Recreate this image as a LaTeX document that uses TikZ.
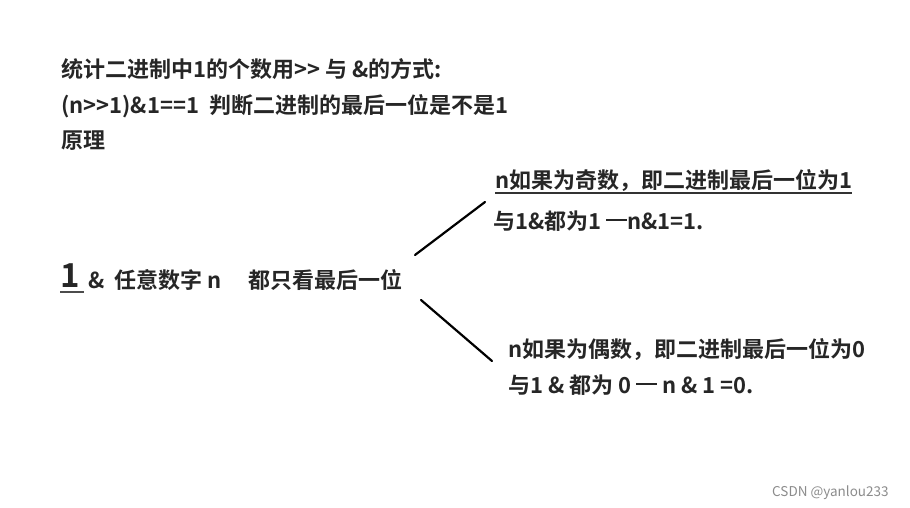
\documentclass[tikz,border=0pt]{standalone}
\usepackage{fontspec}
\setmainfont{Noto Sans CJK SC}[BoldFont={* Bold}]
\newcommand\longdash{\rule[8.5pt]{21pt}{1.6pt}}
\tikzset{
  txt/.style={anchor=base west, inner sep=0pt, font=\fontsize{22}{26}\selectfont\bfseries, text=black!85},
  branch/.style={line width=2.2pt, black, line cap=round},
}
\begin{document}
\begin{tikzpicture}[x=1pt,y=-1pt]
\useasboundingbox (0,0) rectangle (910,508);
\fill[white] (0,0) rectangle (910,508);
\node[txt] (t1) at (61,78) {统计二进制中1的个数用>{}> 与 \&的方式:};
\node[txt] (t2) at (61,114) {(n>{}>1)\&1==1\ \ 判断二进制的最后一位是不是1};
\node[txt] (t3) at (61,149) {原理};
\node[txt, font=\fontsize{33}{33}\selectfont\bfseries] (one) at (60,287) {1};
\draw[line width=1.3pt, black!70] (60,292) -- (84,292);
\node[txt] (amp) at (88,288) {\& \ 任意数字 n};
\node[txt] (look) at (248,288) {都只看最后一位};
\coordinate (ua) at (415,255);
\coordinate (ub) at (485,202);
\coordinate (la) at (421,300);
\coordinate (lb) at (492,361);
\draw[branch] (ua) -- (ub);
\draw[branch] (la) -- (lb);
\node[txt] (odd1) at (495,188) {n如果为奇数，即二进制最后一位为1};
\draw[line width=1.2pt, black!80] (odd1.base west) ++(0,5) -- ([yshift=-5pt]odd1.base east);
\node[txt] (odd2) at (493,229) {与1\&都为1 \longdash n\&1=1.};
\node[txt] (even1) at (508,357) {n如果为偶数，即二进制最后一位为0};
\node[txt] (even2) at (508,393) {与1 \& 都为 0 \longdash\ n \& 1 =0.};
\node[anchor=base west, inner sep=0pt, font=\fontsize{13.5}{15}\selectfont, text=black!45] (wm) at (772,496) {CSDN @yanlou233};
\end{tikzpicture}
\end{document}
